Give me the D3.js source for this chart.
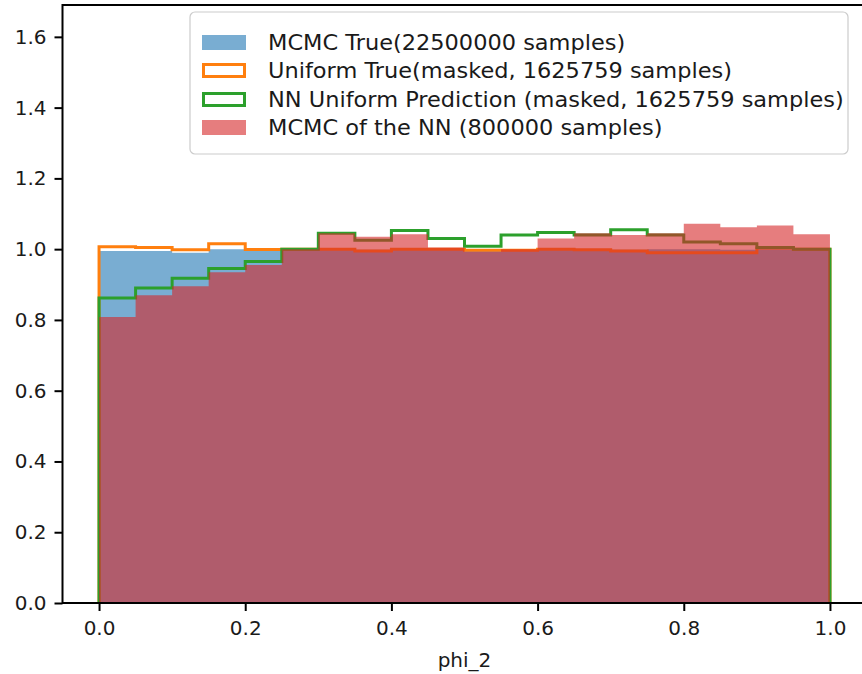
<!DOCTYPE html>
<html>
<head>
<meta charset="utf-8">
<script src="https://cdn.jsdelivr.net/npm/d3@7"></script>
<style>
  html, body { margin: 0; padding: 0; background: #fff; }
  svg { display: block; }
  text { font-family: "DejaVu Sans", sans-serif; fill: #1a1a1a; }
</style>
</head>
<body>
<svg id="chart" width="862" height="674"></svg>
<script>
// ---- data ----
const binEdges = [0.00, 0.05, 0.10, 0.15, 0.20, 0.25, 0.30, 0.35, 0.40, 0.45, 0.50,
                  0.55, 0.60, 0.65, 0.70, 0.75, 0.80, 0.85, 0.90, 0.95, 1.00];
const mcmcTrue   = [0.995, 0.995, 0.990, 1.000, 0.995, 1.000, 1.000, 0.998, 1.000, 1.000,
                    0.997, 1.000, 1.000, 1.000, 0.998, 1.000, 1.000, 0.998, 1.000, 1.000];
const uniformTrue = [1.007, 1.005, 0.998, 1.015, 0.999, 1.000, 1.000, 0.995, 1.000, 1.000,
                     0.997, 0.997, 1.000, 0.998, 0.995, 0.990, 0.990, 0.990, 1.003, 1.000];
const nnUniform  = [0.862, 0.890, 0.918, 0.945, 0.965, 1.000, 1.045, 1.025, 1.053, 1.030,
                    1.008, 1.040, 1.047, 1.040, 1.055, 1.040, 1.020, 1.015, 1.005, 1.000];
const mcmcNN     = [0.808, 0.870, 0.895, 0.935, 0.955, 1.000, 1.045, 1.035, 1.042, 1.005,
                    0.993, 1.000, 1.030, 1.045, 1.040, 1.045, 1.072, 1.062, 1.067, 1.042];
const xTicks = [0.0, 0.2, 0.4, 0.6, 0.8, 1.0];
const yTicks = [0.0, 0.2, 0.4, 0.6, 0.8, 1.0, 1.2, 1.4, 1.6];
const legendLabels = [
  "MCMC True(22500000 samples)",
  "Uniform True(masked, 1625759 samples)",
  "NN Uniform Prediction (masked, 1625759 samples)",
  "MCMC of the NN (800000 samples)"
];
const xLabel = "phi_2";

// ---- layout ----
const plotLeft = 62.5, plotRight = 866.5, plotTop = 5, plotBottom = 603;
const colors = { blue: "#1f77b4", orange: "#ff7f0e", green: "#2ca02c", red: "#d62728" };
const fillAlpha = 0.6;

const svg = d3.select("#chart");
const x = d3.scaleLinear().domain([-0.05, 1.05]).range([plotLeft, plotRight]);
const y = d3.scaleLinear().domain([0, 1.69]).range([plotBottom, plotTop]);

svg.append("defs").append("clipPath").attr("id", "plotClip")
  .append("rect").attr("x", plotLeft).attr("y", plotTop)
  .attr("width", plotRight - plotLeft).attr("height", plotBottom - plotTop);

const plot = svg.append("g").attr("clip-path", "url(#plotClip)");

function stepPoints(values) {
  const pts = [[binEdges[0], 0]];
  values.forEach((v, i) => { pts.push([binEdges[i], v]); pts.push([binEdges[i + 1], v]); });
  pts.push([binEdges[binEdges.length - 1], 0]);
  return pts;
}
const line = d3.line().x(d => x(d[0])).y(d => y(d[1]));
const area = d3.area().x(d => x(d[0])).y0(y(0)).y1(d => y(d[1]));

// blue filled histogram
plot.append("path").datum(stepPoints(mcmcTrue)).attr("d", area)
  .attr("fill", colors.blue).attr("fill-opacity", fillAlpha);

// orange step
plot.append("path").datum(stepPoints(uniformTrue)).attr("d", line)
  .attr("fill", "none").attr("stroke", colors.orange).attr("stroke-width", 3)
  .attr("stroke-linejoin", "miter");

// green step
plot.append("path").datum(stepPoints(nnUniform)).attr("d", line)
  .attr("fill", "none").attr("stroke", colors.green).attr("stroke-width", 3)
  .attr("stroke-linejoin", "miter");

// red filled histogram on top
plot.append("path").datum(stepPoints(mcmcNN)).attr("d", area)
  .attr("fill", colors.red).attr("fill-opacity", fillAlpha);

// ---- axes ----
const yAxis = svg.append("g").attr("transform", `translate(${plotLeft},0)`)
  .call(d3.axisLeft(y).tickValues(yTicks).tickFormat(d3.format(".1f")).tickSize(8).tickPadding(8));
const xAxis = svg.append("g").attr("transform", `translate(0,${plotBottom})`)
  .call(d3.axisBottom(x).tickValues(xTicks).tickFormat(d3.format(".1f")).tickSize(8).tickPadding(10));
[yAxis, xAxis].forEach(a => {
  a.select(".domain").remove();
  a.selectAll(".tick line").attr("stroke", "#000").attr("stroke-width", 2);
  a.selectAll(".tick text").attr("font-size", 20).attr("fill", "#1a1a1a")
    .style("font-family", "DejaVu Sans, sans-serif");
});

// spines
svg.append("rect").attr("x", plotLeft).attr("y", plotTop)
  .attr("width", plotRight - plotLeft).attr("height", plotBottom - plotTop)
  .attr("fill", "none").attr("stroke", "#000").attr("stroke-width", 2);

// x label
svg.append("text").attr("x", x(0.5)).attr("y", 667).attr("text-anchor", "middle")
  .attr("font-size", 20).text(xLabel);

// ---- legend ----
const legend = svg.append("g");
legend.append("rect").attr("x", 190).attr("y", 12).attr("width", 658).attr("height", 142)
  .attr("rx", 5).attr("fill", "#fff").attr("fill-opacity", 0.85)
  .attr("stroke", "#cccccc").attr("stroke-width", 1.2);
const legendRows = [
  { label: legendLabels[0], type: "fill", color: colors.blue },
  { label: legendLabels[1], type: "step", color: colors.orange },
  { label: legendLabels[2], type: "step", color: colors.green },
  { label: legendLabels[3], type: "fill", color: colors.red }
];
const rowY = [43, 71, 100, 128];
legendRows.forEach((r, i) => {
  const cy = rowY[i];
  if (r.type === "fill") {
    legend.append("rect").attr("x", 202).attr("y", cy - 8).attr("width", 44).attr("height", 15)
      .attr("fill", r.color).attr("fill-opacity", fillAlpha);
  } else {
    legend.append("rect").attr("x", 203.5).attr("y", cy - 6.5).attr("width", 41).attr("height", 12)
      .attr("fill", "none").attr("stroke", r.color).attr("stroke-width", 3);
  }
  legend.append("g").attr("transform", `translate(268,${cy + 7}) scale(1.07,1)`)
    .append("text").attr("x", 0).attr("y", 0).attr("font-size", 21).text(r.label);
});
</script>
</body>
</html>
